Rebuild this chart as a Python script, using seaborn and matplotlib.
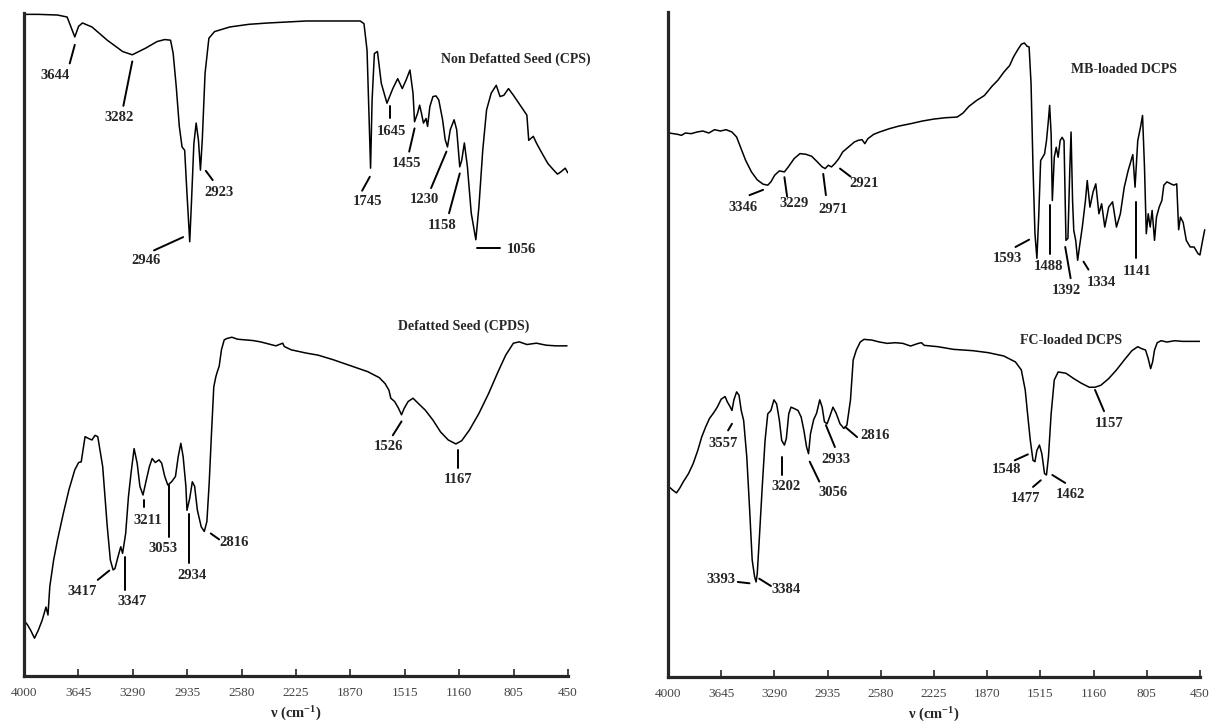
import matplotlib
matplotlib.use("Agg")
import matplotlib.pyplot as plt
import seaborn as sns

# wavenumber axis
tick_wn = [4000, 3645, 3290, 2935, 2580, 2225, 1870, 1515, 1160, 805, 450]

# Non defatted seed (CPS) - relative transmittance
cps_wn = [3994, 3907, 3782, 3719, 3694, 3669, 3644, 3619, 3557, 3457, 3357, 3294, 3207, 3132,
          3082, 3044, 3027, 3007, 2987, 2969, 2952, 2937, 2919, 2907, 2892, 2877, 2862, 2849,
          2837, 2819, 2794, 2757, 2657, 2532, 2407, 2157, 1907, 1807, 1782, 1762, 1749, 1739,
          1729, 1714, 1694, 1669, 1632, 1594, 1562, 1532, 1507, 1482, 1462, 1452, 1432, 1419,
          1407, 1394, 1377, 1367, 1352, 1332, 1312, 1294, 1269, 1252, 1237, 1219, 1194, 1177,
          1157, 1144, 1127, 1107, 1082, 1052, 1032, 1007, 982, 952, 919, 894, 869, 839, 807,
          757, 719, 707, 677, 657, 619, 582, 544, 519, 494, 469, 452]
cps_t = [99.8, 99.8, 99.7, 99.4, 97.9, 96.4, 98.0, 98.5, 97.9, 95.9, 94.2, 93.7, 94.7, 95.7,
         96.0, 95.9, 93.9, 88.9, 82.9, 79.8, 79.3, 72.8, 65.5, 71.8, 80.3, 83.4, 80.8, 76.3,
         80.9, 90.9, 96.2, 97.2, 97.9, 98.3, 98.5, 98.8, 98.8, 98.8, 98.4, 94.4, 84.4, 76.6,
         86.9, 93.9, 94.2, 89.4, 86.4, 88.6, 90.1, 88.6, 89.9, 91.4, 87.9, 83.6, 84.9, 86.1,
         84.9, 83.4, 84.1, 82.9, 85.9, 87.4, 87.5, 86.9, 83.9, 80.9, 79.8, 82.4, 83.9, 82.4,
         76.8, 77.8, 80.4, 76.8, 69.8, 65.8, 70.8, 79.3, 85.4, 87.9, 89.1, 87.4, 87.6, 88.6, 87.6,
         85.9, 84.6, 80.8, 81.4, 80.4, 78.8, 77.3, 76.3, 75.7, 76.1, 76.6, 75.9]

# Defatted seed (CPDS)
cpds_wn = [3994, 3977, 3957, 3932, 3907, 3882, 3857, 3844, 3832, 3807, 3782, 3744, 3707, 3669,
           3644, 3627, 3602, 3577, 3557, 3537, 3519, 3487, 3457, 3437, 3419, 3407, 3387, 3369,
           3357, 3337, 3319, 3302, 3282, 3262, 3244, 3224, 3202, 3182, 3164, 3144, 3119, 3102,
           3082, 3062, 3037, 3012, 2994, 2977, 2962, 2944, 2937, 2919, 2902, 2887, 2869, 2844,
           2824, 2807, 2792, 2777, 2762, 2749, 2739, 2727, 2712, 2694, 2677, 2644, 2607, 2557,
           2507, 2457, 2407, 2357, 2312, 2302, 2257, 2157, 2082, 1982, 1857, 1757, 1682, 1644,
           1619, 1607, 1582, 1557, 1537, 1519, 1494, 1462, 1427, 1382, 1332, 1282, 1232, 1182,
           1144, 1094, 1032, 969, 907, 857, 807, 769, 719, 657, 594, 532, 457]
cpds_t = [8.2, 7.7, 6.9, 5.7, 6.9, 8.4, 10.4, 9.2, 13.5, 17.5, 20.5, 24.5, 28.1, 31.1,
          32.2, 32.3, 36.1, 35.8, 35.6, 36.3, 36.1, 31.6, 22.5, 17.5, 16.0, 16.2, 18.0, 19.5,
          18.5, 21.5, 27.0, 30.6, 34.3, 32.1, 28.6, 27.3, 29.6, 31.6, 32.8, 32.2, 32.6, 32.1,
          30.1, 28.8, 29.3, 30.1, 33.1, 35.1, 33.1, 28.6, 25.0, 26.8, 29.3, 28.6, 25.0, 22.5,
          21.8, 23.3, 29.1, 36.6, 43.6, 45.1, 45.9, 46.7, 49.2, 50.7, 50.9, 51.1, 50.8, 50.7,
          50.6, 50.4, 50.1, 49.8, 50.2, 49.7, 49.2, 48.7, 48.4, 47.7, 46.7, 45.9, 45.0, 44.1,
          43.1, 41.9, 41.4, 40.4, 39.4, 40.4, 41.4, 41.9, 41.1, 40.1, 38.6, 36.8, 35.6, 35.0,
          35.5, 37.1, 39.6, 42.6, 45.9, 48.4, 50.2, 50.4, 50.0, 50.2, 49.9, 49.8, 49.8]

# MB-loaded DCPS
mb_wn = [3992, 3961, 3935, 3910, 3884, 3845, 3806, 3767, 3728, 3689, 3650, 3612, 3573, 3542,
         3516, 3482, 3443, 3404, 3365, 3334, 3313, 3288, 3257, 3223, 3197, 3158, 3119, 3080,
         3041, 3003, 2971, 2951, 2930, 2909, 2886, 2860, 2834, 2795, 2756, 2730, 2705, 2686,
         2666, 2627, 2588, 2523, 2458, 2381, 2303, 2225, 2147, 2070, 2031, 1992, 1940, 1888,
         1837, 1798, 1759, 1720, 1694, 1668, 1642, 1622, 1603, 1590, 1577, 1564, 1551, 1538,
         1526, 1513, 1500, 1487, 1474, 1461, 1453, 1443, 1435, 1422, 1409, 1396, 1383, 1370,
         1357, 1344, 1331, 1318, 1310, 1300, 1292, 1279, 1266, 1254, 1235, 1214, 1202, 1184,
         1163, 1145, 1124, 1106, 1085, 1059, 1033, 1007, 981, 955, 929, 898, 883, 865, 846,
         833, 820, 808, 795, 782, 769, 753, 740, 722, 704, 691, 670, 644, 624, 605, 592, 580,
         562, 541, 515, 489, 463, 450, 432, 418]
mb_t = [81.85, 81.75, 81.65, 81.5, 81.85, 81.75, 82.0, 82.15, 81.85, 82.35, 82.15, 82.35, 82.0,
        81.25, 79.75, 77.75, 76.0, 74.8, 74.15, 74.0, 74.5, 75.5, 76.15, 76.0, 76.75, 78.0,
        78.75, 78.65, 78.35, 77.5, 76.75, 76.5, 77.0, 76.75, 77.25, 78.0, 79.0, 79.75, 80.5,
        80.75, 80.85, 80.25, 81.0, 81.65, 82.0, 82.5, 82.9, 83.25, 83.65, 83.95, 84.15, 84.25,
        84.85, 85.85, 86.75, 87.5, 88.9, 89.8, 91.0, 92.0, 93.3, 94.3, 95.2, 95.4, 94.9, 94.8,
        89.3, 76.7, 66.7, 63.0, 69.2, 77.7, 78.2, 78.7, 80.7, 83.8, 86.0, 81.7, 71.7, 78.2,
        79.7, 78.2, 80.7, 81.2, 80.7, 65.7, 66.0, 76.7, 82.0, 71.7, 67.2, 65.7, 62.7, 64.7,
        67.7, 71.7, 74.7, 70.7, 73.0, 74.2, 69.7, 71.2, 67.7, 70.7, 71.5, 67.7, 69.7, 73.7,
        76.2, 78.6, 73.7, 80.7, 82.8, 84.5, 76.7, 66.7, 69.7, 67.7, 70.2, 65.7, 69.2, 70.7,
        71.7, 74.0, 74.5, 74.2, 74.0, 74.2, 67.3, 69.2, 68.4, 65.7, 64.7, 64.7, 63.7, 63.5,
        65.7, 67.3]

# FC-loaded DCPS
fc_wn = [3992, 3967, 3943, 3922, 3897, 3863, 3832, 3801, 3775, 3749, 3723, 3697, 3671, 3645,
         3619, 3604, 3586, 3573, 3560, 3542, 3526, 3511, 3495, 3474, 3456, 3438, 3422, 3412,
         3404, 3391, 3371, 3352, 3334, 3313, 3293, 3275, 3257, 3241, 3223, 3210, 3194, 3179,
         3158, 3132, 3111, 3093, 3075, 3062, 3049, 3028, 3008, 2987, 2971, 2956, 2938, 2917,
         2899, 2878, 2852, 2826, 2806, 2782, 2764, 2743, 2717, 2692, 2640, 2588, 2536, 2484,
         2433, 2381, 2329, 2308, 2290, 2199, 2095, 1966, 1862, 1759, 1681, 1642, 1616, 1598,
         1582, 1564, 1551, 1538, 1521, 1505, 1487, 1474, 1461, 1443, 1422, 1396, 1344, 1292,
         1241, 1189, 1150, 1111, 1059, 1007, 955, 904, 865, 839, 813, 795, 779, 766, 753, 735,
         709, 670, 618, 567, 515, 452]
fc_t = [28.6, 28.1, 27.7, 28.4, 29.4, 30.6, 32.1, 34.1, 36.1, 37.6, 38.9, 39.7, 40.6, 41.8,
        42.2, 41.4, 40.7, 40.1, 41.7, 42.9, 42.4, 40.1, 38.6, 33.1, 25.6, 17.6, 15.1, 14.3,
        15.6, 20.6, 28.6, 35.6, 39.6, 40.1, 41.7, 41.1, 38.7, 35.6, 34.9, 35.9, 39.6, 40.6,
        40.4, 40.1, 39.1, 37.1, 34.6, 33.6, 36.6, 38.7, 39.7, 41.7, 40.6, 38.4, 38.1, 39.4,
        40.6, 39.7, 38.1, 37.4, 37.9, 41.7, 47.7, 49.2, 50.4, 50.8, 50.7, 50.4, 50.2, 50.3,
        50.2, 49.8, 50.2, 50.3, 49.9, 49.7, 49.3, 49.1, 48.8, 48.3, 47.4, 46.2, 43.2, 39.1,
        35.6, 32.6, 32.4, 34.1, 34.9, 33.6, 30.6, 30.4, 33.1, 39.6, 44.7, 45.9, 45.7, 44.9,
        44.2, 43.6, 43.6, 43.9, 44.9, 46.2, 47.7, 49.1, 49.7, 49.4, 49.2, 47.9, 46.4, 47.4,
        49.2, 50.3, 50.6, 50.4, 50.6, 50.5, 50.5, 50.5]

# peak labels: (text, text x, text y, leader x0, y0, x1, y1)
left_marks = [
    ("3644", 3799, 90.6, 3702, 92.4, 3669, 95.2),
    ("3282", 3377, 84.3, 3352, 86.0, 3294, 92.7),
    ("2946", 3207, 62.6, 3152, 64.2, 2962, 66.2),
    ("2923", 2727, 72.9, 2814, 76.2, 2769, 74.8),
    ("1745", 1761, 71.5, 1794, 73.2, 1744, 75.3),
    ("1645", 1602, 82.2, 1614, 86.0, 1614, 84.1),
    ("1455", 1502, 77.3, 1487, 79.1, 1452, 82.6),
    ("1230", 1387, 71.9, 1344, 73.6, 1244, 79.1),
    ("1158", 1269, 68.0, 1227, 69.8, 1157, 75.8),
    ("1056", 752, 64.4, 1044, 64.5, 894, 64.5),
    ("1526", 1624, 34.6, 1594, 36.3, 1537, 38.4),
    ("1167", 1169, 29.6, 1169, 34.1, 1169, 31.3),
    ("3211", 3194, 23.5, 3219, 26.5, 3219, 25.5),
    ("3053", 3094, 19.2, 3057, 28.8, 3057, 21.0),
    ("2934", 2907, 15.2, 2927, 24.5, 2927, 17.0),
    ("2816", 2627, 20.1, 2782, 21.5, 2727, 20.6),
    ("3417", 3619, 12.7, 3519, 14.5, 3444, 15.9),
    ("3347", 3294, 11.2, 3344, 18.0, 3344, 13.0),
]
right_marks = [
    ("3346", 3500, 70.7, 3456, 72.5, 3365, 73.3),
    ("3229", 3158, 71.2, 3223, 75.2, 3205, 72.3),
    ("2971", 2899, 70.3, 2964, 75.7, 2946, 72.5),
    ("2921", 2692, 74.2, 2852, 76.5, 2782, 75.3),
    ("1593", 1733, 63.0, 1681, 64.7, 1590, 65.8),
    ("1488", 1461, 61.7, 1448, 71.0, 1448, 63.7),
    ("1392", 1344, 58.1, 1349, 64.7, 1313, 60.0),
    ("1334", 1106, 59.4, 1227, 62.5, 1194, 61.3),
    ("1141", 872, 61.0, 878, 71.5, 878, 63.0),
    ("3557", 3630, 35.1, 3599, 37.1, 3573, 38.1),
    ("3393", 3645, 14.7, 3534, 14.3, 3456, 14.1),
    ("3384", 3215, 13.1, 3391, 14.8, 3313, 13.7),
    ("3202", 3215, 28.6, 3236, 33.1, 3236, 30.4),
    ("3056", 2899, 27.7, 3054, 32.4, 2990, 29.4),
    ("2933", 2878, 32.7, 2946, 37.9, 2886, 34.6),
    ("2816", 2619, 36.3, 2816, 37.6, 2738, 36.1),
    ("1548", 1738, 31.2, 1686, 32.6, 1598, 33.5),
    ("1477", 1616, 26.9, 1564, 28.6, 1512, 29.6),
    ("1462", 1313, 27.4, 1435, 30.4, 1349, 29.2),
    ("1157", 1054, 38.2, 1150, 43.2, 1090, 40.0),
]
left_titles = [("Non Defatted Seed (CPS)", 794, 93.0), ("Defatted Seed (CPDS)", 1132, 52.8)]
right_titles = [("MB-loaded DCPS", 960, 91.4), ("FC-loaded DCPS", 1313, 50.7)]

sns.set_style("ticks")
plt.rcParams['font.family'] = ['Liberation Serif', 'DejaVu Serif']
plt.rcParams['mathtext.fontset'] = 'custom'
plt.rcParams['mathtext.rm'] = 'Liberation Serif:bold'
plt.rcParams['mathtext.it'] = 'Liberation Serif:bold'

fig = plt.figure(figsize=(12.09, 7.24), dpi=100)
ax1 = fig.add_axes([0.0199, 0.0663, 0.450, 0.9157])
ax2 = fig.add_axes([0.5525, 0.0649, 0.440, 0.918])


def draw_panel(ax, spectra, marks, titles):
    for wn, t in spectra:
        sns.lineplot(x=wn, y=t, ax=ax, color="black", linewidth=1.1,
                     estimator=None, sort=False)
    for txt, tx, ty, x0, y0, x1, y1 in marks:
        ax.plot([x0, x1], [y0, y1], color="black", linewidth=1.4)
        ax.text(tx, ty, txt, ha="center", va="center", fontsize=10.5,
                fontweight="bold")
    for txt, tx, ty in titles:
        ax.text(tx, ty, txt, ha="center", va="center", fontsize=10,
                fontweight="bold")
    ax.set_xlim(4000, 450)
    ax.set_ylim(0, 100)
    ax.set_xticks(tick_wn)
    ax.set_xticklabels([str(v) for v in tick_wn], fontsize=9.5, color="#444444")
    ax.set_yticks([])
    ax.tick_params(axis="x", direction="in", length=5, width=1.2, pad=8)
    for side in ["top", "right"]:
        ax.spines[side].set_visible(False)
    for side in ["left", "bottom"]:
        ax.spines[side].set_linewidth(2.3)
    ax.set_xlabel(r"ν (cm$^{-1}$)", fontsize=10.5, fontweight="bold", labelpad=4)
    ax.set_ylabel("")


draw_panel(ax1, [(cps_wn, cps_t), (cpds_wn, cpds_t)], left_marks, left_titles)
draw_panel(ax2, [(mb_wn, mb_t), (fc_wn, fc_t)], right_marks, right_titles)
ax2.lines[0].set_clip_on(False)

fig.savefig("out.png", dpi=100)
